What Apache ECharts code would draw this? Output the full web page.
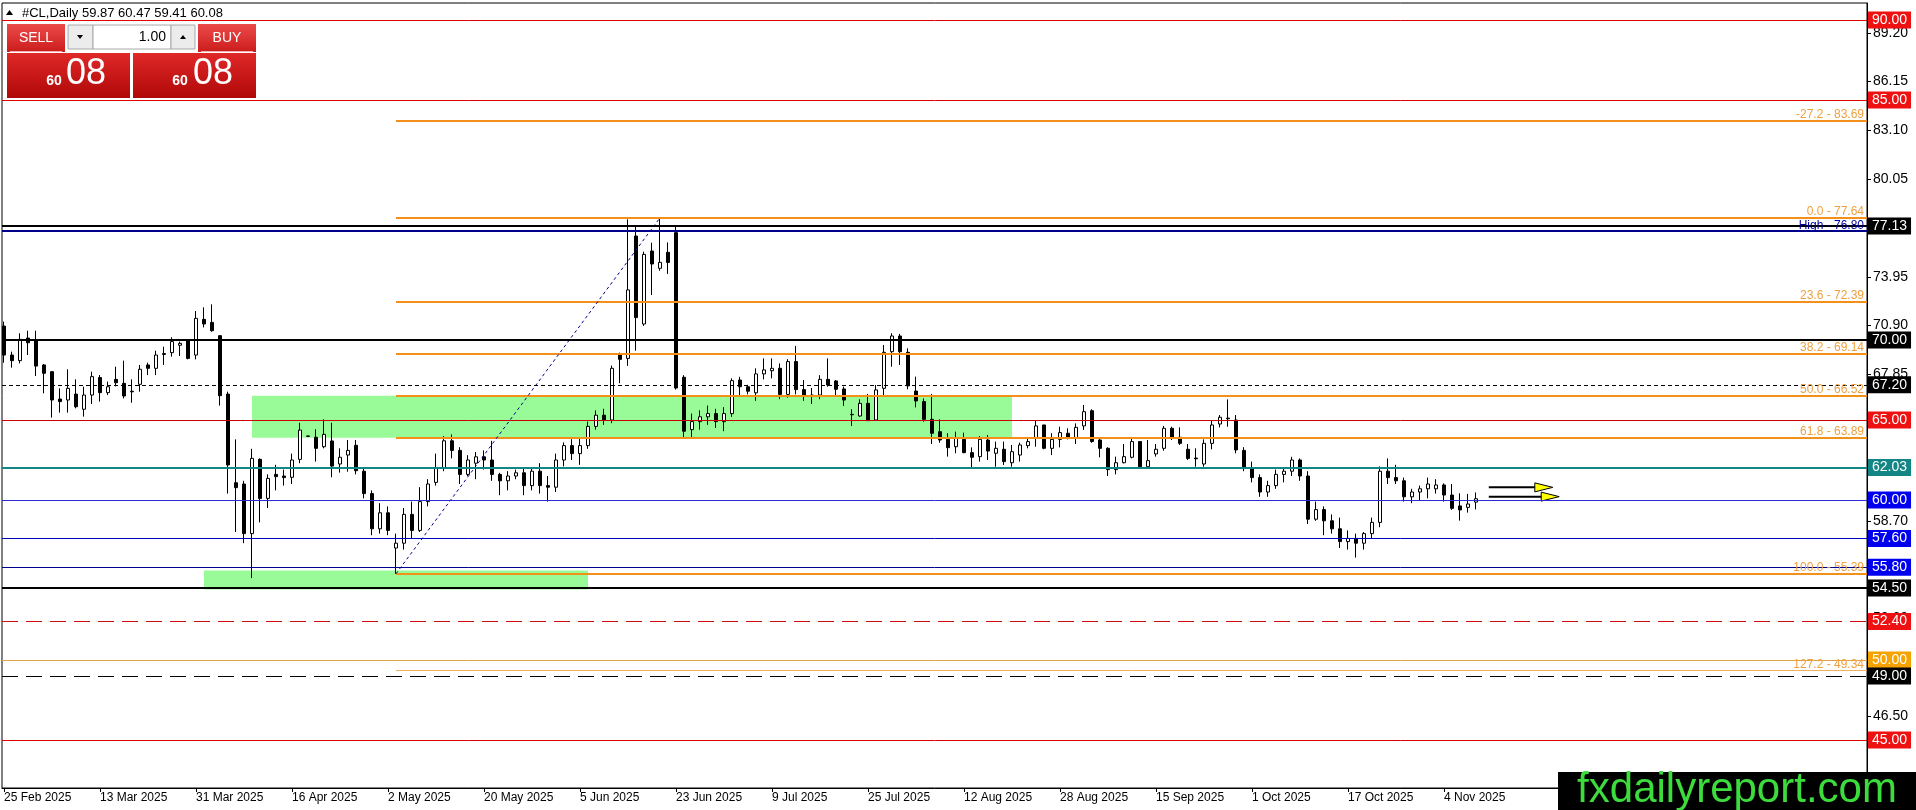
<!DOCTYPE html>
<html><head><meta charset="utf-8">
<script src="https://cdn.jsdelivr.net/npm/echarts@6.0.0/dist/echarts.min.js"></script>
<style>html,body{margin:0;padding:0;background:#fff}#c{width:1916px;height:810px}</style>
</head><body><div id="c"></div><script>
// ---------------- DATA ----------------
const xTickLabels = ['25 Feb 2025','13 Mar 2025','31 Mar 2025','16 Apr 2025','2 May 2025','20 May 2025','5 Jun 2025','23 Jun 2025','9 Jul 2025','25 Jul 2025','12 Aug 2025','28 Aug 2025','15 Sep 2025','1 Oct 2025','17 Oct 2025','4 Nov 2025'];
const xTickBars = [0,12,24,36,48,60,72,84,96,108,120,132,144,156,168,180];
const yTickValues = [46.50,49.55,52.60,55.65,58.70,61.75,64.80,67.85,70.90,73.95,77.00,80.05,83.10,86.15,89.20];

const opens = [70.87,69.06,68.71,70.12,70.00,68.44,68.02,66.31,66.25,66.62,
65.67,66.56,67.65,66.71,67.54,67.29,66.80,67.23,68.44,68.23,
69.15,69.21,69.67,70.00,69.06,71.29,71.10,70.27,66.62,61.08,
61.00,57.90,62.54,60.10,61.60,61.50,61.42,62.54,64.00,63.92,
63.33,63.69,62.25,62.81,63.42,61.80,60.40,58.20,59.20,57.00,
57.30,59.10,58.10,59.90,61.10,62.00,63.70,63.10,61.60,62.30,
62.70,62.50,61.60,61.20,61.50,61.70,60.90,61.80,60.90,60.80,
62.50,63.40,62.90,63.40,64.60,65.30,65.00,69.06,68.85,76.50,
71.00,75.56,74.48,75.48,76.71,67.67,64.40,64.90,65.20,65.40,
64.90,65.40,67.50,67.08,66.70,67.88,68.08,68.23,66.60,68.65,
66.90,66.50,66.56,67.54,67.44,66.94,65.35,65.25,66.04,65.00,
66.98,69.27,70.25,69.23,66.81,66.15,65.04,64.27,63.79,63.33,
63.79,62.96,62.71,63.75,62.92,63.17,62.33,62.81,63.40,63.85,
64.69,63.23,63.79,64.17,63.85,64.63,65.58,63.75,63.23,61.90,
62.33,62.67,63.65,62.08,62.88,63.23,64.48,63.92,63.17,62.62,
62.25,63.54,64.75,65.08,65.00,63.10,62.00,61.40,60.50,60.90,
61.60,61.80,62.50,61.50,58.80,59.40,58.70,58.20,57.40,57.60,
57.30,57.90,58.60,61.80,61.40,61.20,60.20,60.50,60.70,60.70,
60.94,60.31,59.63,59.54,59.87];
const highs = [71.15,69.27,70.42,70.58,70.58,68.50,68.05,66.98,68.17,67.54,
67.08,68.02,67.81,67.40,68.33,68.71,67.54,68.44,68.58,69.33,
69.58,70.17,69.90,70.04,71.81,72.04,72.23,70.31,66.77,63.79,
61.20,63.20,62.60,61.60,62.20,61.90,62.90,64.83,64.02,64.42,
65.04,64.83,63.23,63.75,63.75,62.00,60.60,59.80,59.60,57.90,
59.50,59.90,60.80,61.30,62.90,64.00,64.10,63.30,62.80,63.00,
63.10,63.70,61.70,61.80,61.90,62.00,62.00,62.30,61.50,62.90,
63.60,63.80,63.90,64.90,65.60,65.70,68.40,69.21,77.54,77.08,
75.52,76.08,77.64,76.10,77.13,67.80,65.40,65.60,65.90,65.70,
65.80,67.60,67.70,67.20,68.23,68.85,68.85,68.54,68.80,69.63,
67.50,67.00,67.80,68.85,67.50,67.08,65.67,66.29,66.63,67.19,
69.69,70.42,70.38,69.48,67.71,66.35,66.63,65.04,64.17,64.27,
64.21,63.29,64.00,64.06,63.65,63.65,63.44,63.58,63.85,65.00,
64.69,64.17,64.58,64.48,64.79,65.94,65.67,63.85,63.30,62.71,
63.50,63.85,63.65,63.75,63.50,64.63,64.58,64.54,63.50,63.23,
63.79,65.00,65.31,66.29,65.31,63.30,62.40,61.60,61.20,61.90,
62.00,62.70,62.60,61.80,59.90,59.60,59.10,58.90,58.10,57.90,
58.00,58.90,62.10,62.60,62.20,61.40,60.70,60.90,61.40,61.30,
61.04,61.00,60.42,60.38,60.47];
const lows = [68.58,68.27,68.54,69.06,67.75,66.67,65.15,65.46,65.46,65.73,
65.21,66.00,66.15,66.56,67.10,66.35,66.08,66.77,67.81,67.81,
68.44,68.96,69.00,68.79,68.79,70.79,70.52,65.90,60.40,58.00,
57.30,55.12,58.60,59.50,60.60,60.90,61.00,62.30,63.96,62.40,
63.23,61.42,61.71,61.77,61.60,60.10,57.80,57.90,57.80,55.39,
56.90,57.60,58.00,59.60,60.90,61.80,62.60,61.00,61.50,61.30,
61.90,61.20,60.30,60.60,61.30,60.30,60.60,60.40,59.90,60.50,
62.10,62.50,62.20,63.20,64.40,64.70,64.80,67.30,68.38,69.33,
70.88,72.81,74.33,74.13,66.90,63.90,63.90,64.40,64.70,64.50,
64.30,65.20,66.50,66.60,66.20,67.54,67.60,66.30,66.40,66.60,
66.20,66.00,66.30,67.08,66.50,65.88,64.63,65.21,64.96,64.96,
66.50,68.33,68.44,66.92,65.79,64.90,63.50,63.58,62.71,62.92,
62.92,61.98,62.40,62.50,62.08,62.19,62.08,62.40,63.23,63.33,
63.17,62.81,63.29,63.79,63.50,64.38,63.58,62.67,61.50,61.60,
62.29,62.60,61.98,61.98,62.71,63.08,63.75,63.44,62.50,62.08,
62.08,63.17,64.54,64.58,62.92,61.80,61.10,60.20,60.20,60.70,
61.10,61.50,61.20,58.50,58.70,57.80,57.90,57.00,56.90,56.40,
56.90,57.60,58.30,61.00,61.00,59.90,59.80,60.00,60.10,60.40,
59.90,59.38,58.71,59.21,59.41];
const closes = [69.06,68.71,70.04,69.83,68.37,67.92,66.25,66.15,66.98,65.83,
66.56,67.71,66.71,67.08,67.33,66.50,66.76,68.17,68.23,69.06,
69.10,69.90,69.79,68.85,71.35,71.00,70.58,66.52,62.19,60.77,
57.90,62.60,60.10,61.35,61.46,61.40,62.50,64.37,63.98,63.23,
64.10,62.12,62.67,63.10,61.83,60.40,58.20,59.20,58.10,57.30,
59.10,58.10,59.90,61.00,62.00,63.70,63.10,61.60,62.50,62.70,
62.50,61.60,61.20,61.50,61.70,60.90,61.80,60.90,60.80,62.50,
63.40,62.90,63.40,64.60,65.30,65.00,68.23,68.79,73.13,71.40,
75.35,74.75,74.85,74.85,67.00,64.30,64.90,65.20,65.40,64.90,
65.40,67.46,67.08,66.80,67.88,68.13,68.23,66.60,68.65,66.90,
66.50,66.56,67.54,67.19,66.92,66.25,65.33,66.04,64.96,66.88,
69.23,70.25,69.27,67.13,66.19,65.04,64.17,63.75,63.27,63.85,
62.96,62.67,63.79,63.06,63.23,62.40,63.02,63.44,63.65,64.63,
63.23,63.79,64.21,63.92,64.54,65.52,63.65,63.23,61.90,62.33,
62.71,63.65,62.08,62.46,63.17,64.48,63.85,63.54,62.60,62.58,
63.54,64.69,65.17,65.12,63.13,62.00,61.40,60.50,60.90,61.60,
61.80,62.50,61.50,58.80,59.40,58.70,58.20,57.40,57.60,57.30,
57.90,58.60,61.80,61.40,61.20,60.20,60.50,60.70,61.00,60.94,
60.31,59.48,59.38,59.75,60.08];

const levelPrices = [90, 85, 77.13, 70, 67.2, 65, 62.03, 60, 57.6, 55.8, 54.5, 52.4, 50, 49, 45];
const highLinePrice = 76.80;
const fibPercents = [-27.2, 0, 23.6, 38.2, 50, 61.8, 100, 127.2];
const fibPrices = [83.69, 77.64, 72.39, 69.14, 66.52, 63.89, 55.39, 49.34];
const fibAnchorBars = [49, 82];
const fibAnchorPrices = [55.39, 77.64];
const zoneBars = [[31, 126], [25, 73]];
const zonePrices = [[66.52, 63.89], [55.6, 54.4]];
const arrowStartBars = [185.6, 185.6];
const arrowTipBars = [193.6, 194.4];
const arrowPrices = [60.79, 60.21];
const panelPrice = ['60', '08'];
const lotSize = '1.00';

// ---------------- STYLE ----------------
const FONT = '"Liberation Sans", Arial, sans-serif';
const X_MIN = -0.25, X_MAX = 232.875;
const Y_MIN = 42.0, Y_MAX = 91.0625;
const RED = '#ee1111', BLUE = '#0000ee', BLACK = '#000000', TEAL = '#128584', ORANGE_TAG = '#f5a300';
const LEVEL_STYLE = {
  '90':    {line:'#e00000', w:1, type:'solid', tag:RED},
  '85':    {line:'#e00000', w:1, type:'solid', tag:RED},
  '77.13': {line:'#000000', w:2, type:'solid', tag:BLACK},
  '70':    {line:'#000000', w:2, type:'solid', tag:BLACK},
  '67.2':  {line:'#000000', w:1, type:[4,3], tag:BLACK},
  '65':    {line:'#cc0000', w:1, type:'solid', tag:RED},
  '62.03': {line:TEAL, w:2, type:'solid', tag:TEAL},
  '60':    {line:'#2a2ad8', w:1, type:'solid', tag:BLUE},
  '57.6':  {line:'#0000c0', w:1, type:'solid', tag:BLUE},
  '55.8':  {line:'#000090', w:1, type:'solid', tag:BLUE},
  '54.5':  {line:'#000000', w:2, type:'solid', tag:BLACK},
  '52.4':  {line:'#d01010', w:1, type:[16,8], tag:RED},
  '50':    {line:'#e0a448', w:1, type:'solid', tag:ORANGE_TAG},
  '49':    {line:'#000000', w:1, type:[16,8], tag:BLACK},
  '45':    {line:'#e00000', w:1, type:'solid', tag:RED}
};
const FIB_LINE = '#f39019', FIB_TEXT = '#f0a040';

const candleData = opens.map((o, i) => [i, o, closes[i], lows[i], highs[i]]);
const n = opens.length;
const f2 = v => v.toFixed(2);

const levelLines = levelPrices.map(p => {
  const s = LEVEL_STYLE[String(p)];
  return {
    yAxis: p,
    lineStyle: {color: s.line, width: s.w, type: s.type},
    label: {show: true, position: 'end', formatter: f2(p), color: '#fff', backgroundColor: s.tag,
      padding: [2, 4, 1, 4], fontSize: 14, fontFamily: FONT, distance: 1}
  };
});
const highLine = {
  yAxis: highLinePrice,
  lineStyle: {color: '#00008b', width: 2, type: 'solid'},
  label: {show: true, position: 'insideEndTop', formatter: 'High - ' + f2(highLinePrice), color: '#0000a0',
    fontSize: 12, fontFamily: FONT, distance: [3, 0]}
};
const fibLines = fibPrices.map((p, i) => [
  {coord: [fibAnchorBars[0], p],
   lineStyle: {color: fibPercents[i] === 127.2 ? '#f0b060' : FIB_LINE, width: fibPercents[i] === 127.2 ? 1 : 2, type: 'solid'},
   label: {show: true, position: 'insideEndTop', formatter: fibPercents[i].toFixed(1) + ' - ' + f2(p),
     color: FIB_TEXT, fontSize: 12, fontFamily: FONT, distance: [3, 0]}},
  {coord: [X_MAX, p]}
]);
const diagLine = [
  {coord: [fibAnchorBars[0], fibAnchorPrices[0]], lineStyle: {color: '#00008b', width: 1, type: [3, 3]}, label: {show: false}},
  {coord: [fibAnchorBars[1], fibAnchorPrices[1]]}
];

function grad(a, b) {
  return new echarts.graphic.LinearGradient(0, 0, 0, 1, [{offset: 0, color: a}, {offset: 1, color: b}]);
}

const headerText = '#CL,Daily ' + [opens[n-1], highs[n-1], lows[n-1], closes[n-1]].map(f2).join(' ');

const option = {
  animation: false,
  backgroundColor: '#ffffff',
  grid: {left: 2, right: 49, top: 3, bottom: 22, show: true, borderColor: '#000', borderWidth: 1},
  xAxis: {
    type: 'value', min: X_MIN, max: X_MAX, splitLine: {show: false},
    axisLine: {show: true, onZero: false, lineStyle: {color: '#000', width: 1}},
    axisTick: {show: true, customValues: xTickBars, length: 4, lineStyle: {color: '#000'}},
    axisLabel: {customValues: xTickBars, formatter: v => xTickLabels[Math.round(v / 12)] || '',
      align: 'left', color: '#000', fontSize: 12, fontFamily: FONT, margin: 4}
  },
  yAxis: {
    type: 'value', position: 'right', min: Y_MIN, max: Y_MAX, splitLine: {show: false},
    axisLine: {show: true, onZero: false, lineStyle: {color: '#000', width: 1}},
    axisTick: {show: true, customValues: yTickValues, length: 4, lineStyle: {color: '#000'}},
    axisLabel: {customValues: yTickValues, formatter: v => f2(v), color: '#000', fontSize: 14, fontFamily: FONT, margin: 6}
  },
  series: [
    {
      type: 'line', data: [], z: 1, silent: true,
      markArea: {silent: true, itemStyle: {color: '#98fb98', opacity: 1},
        data: zoneBars.map((b, i) => [{coord: [b[0], zonePrices[i][0]]}, {coord: [b[1], zonePrices[i][1]]}])}
    },
    {
      type: 'candlestick', z: 2, barWidth: 4, silent: true,
      data: candleData,
      itemStyle: {color: '#ffffff', color0: '#000000', borderColor: '#000000', borderColor0: '#000000', borderWidth: 1}
    },
    {
      type: 'line', data: [], z: 3, silent: true,
      markLine: {silent: true, symbol: ['none', 'none'], emphasis: {disabled: true}, precision: 2,
        data: [...fibLines, diagLine, highLine, ...levelLines]}
    },
    {
      type: 'custom', z: 4, silent: true,
      encode: {x: [0, 1], y: 2},
      data: arrowStartBars.map((s, i) => [s, arrowTipBars[i], arrowPrices[i]]),
      renderItem: (params, api) => {
        const a = api.coord([api.value(0), api.value(2)]);
        const b = api.coord([api.value(1), api.value(2)]);
        const L = 18, H = 4.5;
        return {type: 'group', children: [
          {type: 'line', shape: {x1: a[0], y1: a[1], x2: b[0] - 4, y2: a[1]}, style: {stroke: '#000', lineWidth: 2}},
          {type: 'polygon', shape: {points: [[b[0] - L, b[1] - H], [b[0], b[1]], [b[0] - L, b[1] + H]]},
           style: {fill: '#ffff00', stroke: '#000', lineWidth: 1}}
        ]};
      }
    }
  ],
  graphic: [
    {type: 'polygon', z: 100, shape: {points: [[6, 15], [9.5, 10], [13, 15]]}, style: {fill: '#000'}},
    {type: 'text', z: 100, x: 22, y: 13, style: {text: headerText, font: '13px ' + FONT, fill: '#000', verticalAlign: 'middle'}},
    // SELL button
    {type: 'rect', z: 100, shape: {x: 7, y: 24, width: 58, height: 28}, style: {fill: grad('#ec4b4b', '#cc1c1c')}},
    {type: 'line', z: 101, shape: {x1: 10, y1: 51.5, x2: 62, y2: 51.5}, style: {stroke: '#f4b0b0', lineWidth: 1}},
    {type: 'text', z: 101, x: 36, y: 38, style: {text: 'SELL', font: '14px ' + FONT, fill: '#fff', align: 'center', verticalAlign: 'middle'}},
    // spinner
    {type: 'rect', z: 100, shape: {x: 68, y: 25, width: 25, height: 24}, style: {fill: '#ececec', stroke: '#a8a8a8', lineWidth: 1}},
    {type: 'polygon', z: 101, shape: {points: [[77, 35], [83, 35], [80, 39]]}, style: {fill: '#000'}},
    {type: 'rect', z: 100, shape: {x: 93, y: 25, width: 78, height: 24}, style: {fill: '#fff', stroke: '#a8a8a8', lineWidth: 1}},
    {type: 'text', z: 101, x: 166, y: 37, style: {text: lotSize, font: '14px ' + FONT, fill: '#000', align: 'right', verticalAlign: 'middle'}},
    {type: 'rect', z: 100, shape: {x: 171, y: 25, width: 24, height: 24}, style: {fill: '#ececec', stroke: '#a8a8a8', lineWidth: 1}},
    {type: 'polygon', z: 101, shape: {points: [[180, 39], [186, 39], [183, 35]]}, style: {fill: '#000'}},
    // BUY button
    {type: 'rect', z: 100, shape: {x: 198, y: 24, width: 58, height: 28}, style: {fill: grad('#ec4b4b', '#cc1c1c')}},
    {type: 'line', z: 101, shape: {x1: 201, y1: 51.5, x2: 253, y2: 51.5}, style: {stroke: '#f4b0b0', lineWidth: 1}},
    {type: 'text', z: 101, x: 227, y: 38, style: {text: 'BUY', font: '14px ' + FONT, fill: '#fff', align: 'center', verticalAlign: 'middle'}},
    // price boxes
    {type: 'rect', z: 100, shape: {x: 7, y: 53, width: 123, height: 45}, style: {fill: grad('#e02828', '#b00808')}},
    {type: 'rect', z: 100, shape: {x: 133, y: 53, width: 123, height: 45}, style: {fill: grad('#e02828', '#b00808')}},
    {type: 'text', z: 101, x: 54, y: 81, style: {text: panelPrice[0], font: 'bold 14px ' + FONT, fill: '#fff', align: 'center', verticalAlign: 'middle'}},
    {type: 'text', z: 101, x: 86, y: 74, style: {text: panelPrice[1], font: '36px ' + FONT, fill: '#fff', align: 'center', verticalAlign: 'middle'}},
    {type: 'text', z: 101, x: 180, y: 81, style: {text: panelPrice[0], font: 'bold 14px ' + FONT, fill: '#fff', align: 'center', verticalAlign: 'middle'}},
    {type: 'text', z: 101, x: 213, y: 74, style: {text: panelPrice[1], font: '36px ' + FONT, fill: '#fff', align: 'center', verticalAlign: 'middle'}},
    // logo
    {type: 'rect', z: 100, shape: {x: 1558, y: 772, width: 358, height: 38}, style: {fill: '#000'}},
    {type: 'text', z: 101, x: 1737, y: 790, style: {text: 'fxdailyreport.com', font: '42px ' + FONT, fill: '#3ddc3d', align: 'center', verticalAlign: 'middle'}}
  ]
};

const chart = echarts.init(document.getElementById('c'), null, {renderer: 'canvas'});
chart.setOption(option);
</script></body></html>
